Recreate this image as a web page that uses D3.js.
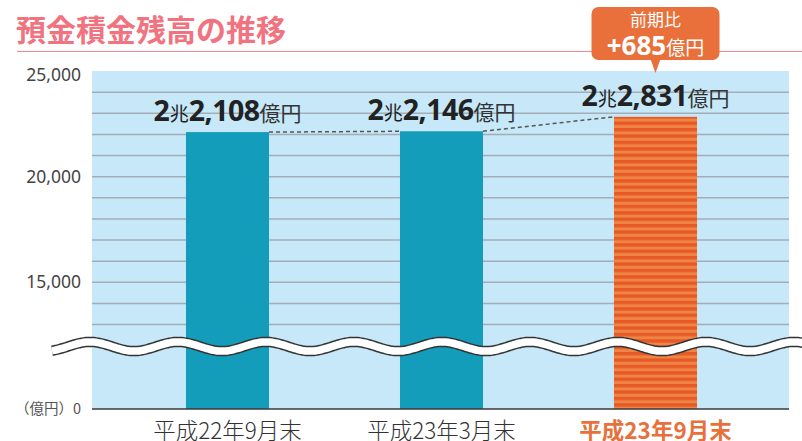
<!DOCTYPE html>
<html>
<head>
<meta charset="utf-8">
<script src="https://cdn.jsdelivr.net/npm/d3@7"></script>
<style>
  body { margin: 0; background: #fff; }
  svg { display: block; font-family: "Noto Sans CJK JP", "Noto Sans", sans-serif; }
</style>
</head>
<body>
<svg width="802" height="441"></svg>
<script>
(function () {
    'use strict'

    // data (億円)
    const categories = ['平成22年9月末', '平成23年3月末', '平成23年9月末'];
    const values = [22108, 22146, 22831];
    const yTicks = [15000, 20000, 25000];
    const gridValues = d3.range(13000, 25000, 1000);
    const title = '預金積金残高の推移';
    const diffTitle = '前期比';
    const diffValue = values[2] - values[1];   // 685

    // the axis is broken: the bottom of the plot stands for 0
    const FLOOR = 9000;

    let svg = d3.select('svg'),
        plot = { left: 92, right: 789, top: 71, bottom: 409 };

    let x = d3.scaleBand()
        .domain(categories)
        .range([120.5, 762.5])
        .paddingInner(0.612)
        .paddingOuter(0.306);

    let y = d3.scaleLinear()
        .domain([FLOOR, 25000])
        .range([plot.bottom, plot.top]);

    // stripe pattern for the latest bar
    let pat = svg.append('defs').append('pattern')
        .attr('id', 'stripes')
        .attr('patternUnits', 'userSpaceOnUse')
        .attr('width', 10).attr('height', 6.4);
    pat.append('rect').attr('width', 10).attr('height', 6.4).attr('fill', '#ee8446');
    pat.append('rect').attr('width', 10).attr('height', 3.4).attr('fill', '#e85a25');

    // title
    svg.append('text')
        .attr('x', 16).attr('y', 41)
        .attr('fill', '#f17380')
        .style('font-size', '30px').style('font-weight', 700)
        .text(title);
    svg.append('line')
        .attr('x1', 17).attr('x2', 802)
        .attr('y1', 51.5).attr('y2', 51.5)
        .attr('stroke', '#f08a93').attr('stroke-width', 1.2);

    // plot background
    svg.append('rect')
        .attr('x', plot.left).attr('y', plot.top)
        .attr('width', plot.right - plot.left).attr('height', plot.bottom - plot.top)
        .attr('fill', '#c6e8f8');

    svg.append('g').selectAll('line')
        .data(gridValues)
        .enter().append('line')
        .attr('x1', plot.left).attr('x2', plot.right)
        .attr('y1', d => y(d)).attr('y2', d => y(d))
        .attr('stroke', '#a3adb5').attr('stroke-width', 1.5);

    // y axis
    let yAxis = svg.append('g')
        .attr('transform', 'translate(' + (plot.left - 11) + ',0)')
        .call(d3.axisLeft(y).tickValues(yTicks).tickFormat(d3.format(',')).tickSize(0).tickPadding(0));
    yAxis.select('.domain').remove();
    yAxis.selectAll('text')
        .attr('dy', '0.32em')
        .attr('y', d => d === 25000 ? 4 : 0)
        .attr('fill', '#444')
        .style('font-size', '17.5px')
        .style('font-family', '"Noto Sans", sans-serif');

    svg.append('text')
        .attr('x', plot.left - 11).attr('y', plot.bottom)
        .attr('dy', '0.32em')
        .attr('text-anchor', 'end')
        .attr('fill', '#555')
        .style('font-size', '14.5px')
        .text('（億円）0');

    // bars
    svg.append('g').selectAll('rect')
        .data(values)
        .enter().append('rect')
        .attr('x', (d, i) => x(categories[i]))
        .attr('width', x.bandwidth())
        .attr('y', d => y(d))
        .attr('height', d => plot.bottom - y(d))
        .attr('fill', (d, i) => i === 2 ? 'url(#stripes)' : '#149cbb');

    // dashed connectors between bar tops
    let conn = [];
    for (let i = 0; i < values.length - 1; i++)
        conn.push([[x(categories[i]) + x.bandwidth(), y(values[i])], [x(categories[i + 1]), y(values[i + 1])]]);
    svg.append('g').selectAll('path')
        .data(conn)
        .enter().append('path')
        .attr('d', d3.line())
        .attr('fill', 'none')
        .attr('stroke', '#555')
        .attr('stroke-width', 1.5)
        .attr('stroke-dasharray', '4,3');

    // baseline
    svg.append('line')
        .attr('x1', plot.left).attr('x2', plot.right)
        .attr('y1', plot.bottom).attr('y2', plot.bottom)
        .attr('stroke', '#3a3a3a').attr('stroke-width', 1.5);

    // wavy break mark
    let wave = d3.range(52, 806, 2).map(px => [px, 346.5 - 4.6 * Math.cos((px - 90) / 88 * 2 * Math.PI)]);
    let waveLine = d3.line().curve(d3.curveBasis);
    svg.append('path').attr('d', waveLine(wave))
        .attr('fill', 'none').attr('stroke', '#333').attr('stroke-width', 10.5);
    svg.append('path').attr('d', waveLine(wave))
        .attr('fill', 'none').attr('stroke', '#fff').attr('stroke-width', 7.5);

    // value labels: 2兆2,108億円
    let labels = svg.append('g').selectAll('text')
        .data(values)
        .enter().append('text')
        .attr('x', (d, i) => x(categories[i]) + x.bandwidth() / 2)
        .attr('y', (d, i) => y(d) - 11)
        .attr('text-anchor', 'middle')
        .attr('fill', '#222');
    labels.append('tspan')
        .style('font-size', '28.5px').style('font-weight', 700)
        .style('font-family', '"Open Sans", sans-serif')
        .text(d => Math.floor(d / 10000));
    labels.append('tspan')
        .style('font-size', '19px')
        .text('兆');
    labels.append('tspan')
        .style('font-size', '28.5px').style('font-weight', 700)
        .style('font-family', '"Open Sans", sans-serif')
        .attr('letter-spacing', '-0.5')
        .text(d => d3.format(',')(d % 10000));
    labels.append('tspan')
        .style('font-size', '21px')
        .attr('fill', '#333')
        .text('億円');

    // x axis
    let xAxis = svg.append('g')
        .attr('transform', 'translate(0,' + plot.bottom + ')')
        .call(d3.axisBottom(x).tickSize(0).tickPadding(0));
    xAxis.select('.domain').remove();
    xAxis.selectAll('text')
        .attr('y', 0).attr('dy', 30)
        .style('font-size', '22.5px')
        .style('font-family', '"Noto Sans CJK JP", sans-serif')
        .attr('fill', (d, i) => i === 2 ? '#e8703a' : '#333')
        .style('font-weight', (d, i) => i === 2 ? 700 : 300);

    // callout for the change
    let cx = x(categories[2]) + x.bandwidth() / 2;
    let callout = svg.append('g');
    callout.append('rect')
        .attr('x', cx - 64).attr('y', 7)
        .attr('width', 128).attr('height', 53)
        .attr('rx', 7)
        .attr('fill', '#e9703a');
    callout.append('path')
        .attr('d', d3.line()([[cx - 5, 59], [cx + 5, 59], [cx, 73]]))
        .attr('fill', '#e9703a');
    callout.append('text')
        .attr('x', cx).attr('y', 26)
        .attr('text-anchor', 'middle')
        .attr('fill', '#fff')
        .style('font-size', '17px')
        .text(diffTitle);
    let diffText = callout.append('text')
        .attr('x', cx).attr('y', 55)
        .attr('text-anchor', 'middle')
        .attr('fill', '#fff');
    diffText.append('tspan')
        .style('font-size', '26px').style('font-weight', 700)
        .style('font-family', '"Open Sans", sans-serif')
        .text('+' + diffValue);
    diffText.append('tspan')
        .style('font-size', '19px')
        .text('億円');
})();
</script>
</body>
</html>
